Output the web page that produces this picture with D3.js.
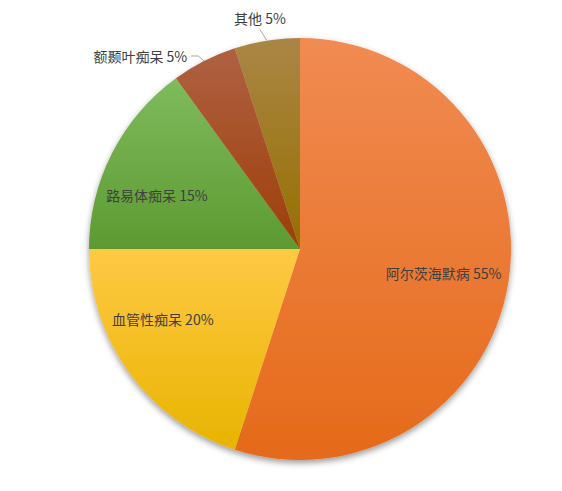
<!DOCTYPE html>
<html><head><meta charset="utf-8">
<script src="https://cdn.jsdelivr.net/npm/d3@7/dist/d3.min.js"></script>
<style>html,body{margin:0;padding:0;background:#fff;}svg{display:block;}</style>
</head><body>
<svg id="chart" width="562" height="491"></svg>
<script>
const categories = ["阿尔茨海默病", "血管性痴呆", "路易体痴呆", "额颞叶痴呆", "其他"];
const values = [55, 20, 15, 5, 5];
const labels = ["阿尔茨海默病 55%", "血管性痴呆 20%", "路易体痴呆 15%", "额颞叶痴呆 5%", "其他 5%"];
const colorsTop = ["#F18B52", "#FFC944", "#7FBB5D", "#AF6143", "#AA8646"];
const colorsBottom = ["#E56A1A", "#E8B400", "#5D9A31", "#9E3E08", "#966F00"];

// layout: label placement
const cx = 300, cy = 249, R = 211;
const labelLayout = [
  {r: 0.69, da: 0.5, leader: false},
  {r: 0.73, da: 9, leader: false},
  {r: 0.725, da: -6.3, leader: false},
  {leader: true, bend: [-6, -5], hx: -7, anchor: "end", tdx: -4, tdy: 0},
  {leader: true, bend: [-7, -11], hx: 0, anchor: "middle", tdx: 0, tdy: -12}
];

const svg = d3.select("#chart");
const defs = svg.append("defs");
const f = defs.append("filter").attr("id","shadow").attr("x","-20%").attr("y","-20%").attr("width","140%").attr("height","140%");
f.append("feDropShadow").attr("dx",0).attr("dy",3).attr("stdDeviation",3).attr("flood-color","#000").attr("flood-opacity",0.4);

values.forEach((v,i)=>{
  const g = defs.append("linearGradient").attr("id","g"+i).attr("x1",0).attr("y1",0).attr("x2",0).attr("y2",1);
  g.append("stop").attr("offset","0%").attr("stop-color",colorsTop[i]);
  g.append("stop").attr("offset","100%").attr("stop-color",colorsBottom[i]);
});

const pie = d3.pie().sort(null).value(d=>d)(values);
const arc = d3.arc().innerRadius(0).outerRadius(R);
const root = svg.append("g").attr("transform",`translate(${cx},${cy})`);
const gp = root.append("g").attr("filter","url(#shadow)");
gp.selectAll("path").data(pie).enter().append("path")
  .attr("d",arc).attr("fill",(d,i)=>`url(#g${i})`);

const font = "'Microsoft YaHei','Noto Sans CJK SC',sans-serif";
function addText(x,y,anchor,t){
  root.append("text").attr("x",x).attr("y",y).attr("text-anchor",anchor).attr("dominant-baseline","central")
    .attr("font-family",font).attr("font-size",14).attr("fill","#404040").text(t);
}
pie.forEach((d,i)=>{
  const L = labelLayout[i];
  if (!L.leader) {
    const mid = (d.startAngle+d.endAngle)/2 + L.da*Math.PI/180;
    addText(Math.sin(mid)*R*L.r, -Math.cos(mid)*R*L.r, "middle", labels[i]);
  } else {
    const m0 = (d.startAngle+d.endAngle)/2;
    const p0 = [Math.sin(m0)*R, -Math.cos(m0)*R];
    const p1 = [p0[0]+L.bend[0], p0[1]+L.bend[1]];
    const p2 = [p1[0]+L.hx, p1[1]];
    root.append("polyline").attr("points",[p0,p1,p2].map(p=>p.join(",")).join(" "))
      .attr("fill","none").attr("stroke","#A6A6A6").attr("stroke-width",1);
    addText(p2[0]+L.tdx, p2[1]+L.tdy, L.anchor, labels[i]);
  }
});
</script>
</body></html>
